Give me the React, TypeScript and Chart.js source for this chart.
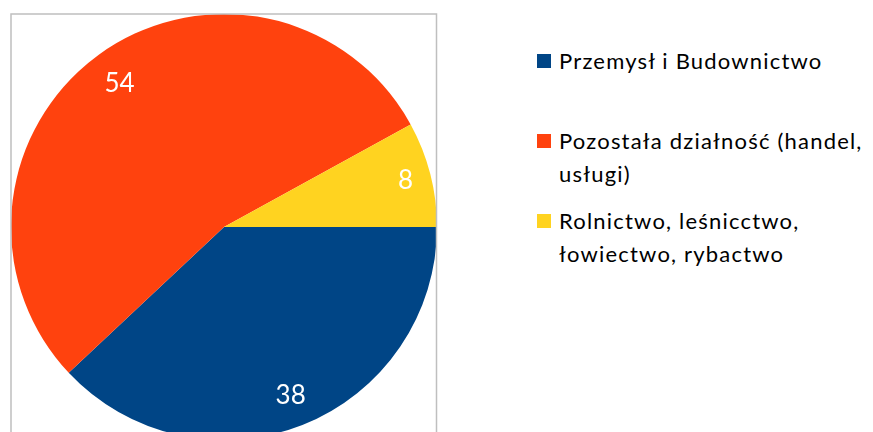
import React, { useEffect, useRef } from "react";
import { Chart, registerables } from "chart.js";
Chart.register(...registerables);

const categories = [
  "Przemysł i Budownictwo",
  "Pozostała działność (handel, usługi)",
  "Rolnictwo, leśnicctwo, łowiectwo, rybactwo",
];
const legendLines = [
  ["Przemysł i Budownictwo"],
  ["Pozostała działność (handel,", "usługi)"],
  ["Rolnictwo, leśnicctwo,", "łowiectwo, rybactwo"],
];
const values = [38, 54, 8];
const colors = ["#004586", "#ff420e", "#ffd320"];
const legendTops = [44, 124, 204];
const labelRadius = [0.85, 0.835, 0.88];

const FONT = "Lato, 'Noto Sans', sans-serif";

const labelPlugin = {
  id: "sliceLabels",
  afterDatasetsDraw(chart: any) {
    const ctx = chart.ctx;
    const meta = chart.getDatasetMeta(0);
    ctx.save();
    ctx.fillStyle = "#ffffff";
    ctx.font = `26px ${FONT}`;
    ctx.textAlign = "center";
    ctx.textBaseline = "middle";
    meta.data.forEach((arc: any, i: number) => {
      const mid = (arc.startAngle + arc.endAngle) / 2;
      const d = arc.outerRadius * labelRadius[i];
      ctx.fillText(String(values[i]), arc.x + Math.cos(mid) * d, arc.y + Math.sin(mid) * d);
    });
    ctx.restore();
  },
};

const framePlugin = {
  id: "frame",
  afterDraw(chart: any) {
    const ctx = chart.ctx;
    ctx.save();
    ctx.strokeStyle = "#bfbfbf";
    ctx.lineWidth = 1.5;
    ctx.strokeRect(11, 14, 425.5, 480);
    ctx.restore();
  },
};

export default function App() {
  const ref = useRef<HTMLCanvasElement>(null);
  useEffect(() => {
    const chart = new Chart(ref.current!, {
      type: "pie",
      data: {
        labels: categories,
        datasets: [
          {
            data: values,
            backgroundColor: colors,
            borderWidth: 0,
          },
        ],
      },
      options: {
        animation: false,
        responsive: false,
        rotation: 90,
        layout: { padding: { left: 11, top: 14, right: 13, bottom: 20 } },
        plugins: {
          legend: { display: false },
          tooltip: { enabled: false },
        },
      },
      plugins: [labelPlugin, framePlugin],
    });
    return () => chart.destroy();
  }, []);

  return (
    <div style={{ position: "absolute", left: 0, top: 0, width: 873, height: 432, overflow: "hidden", background: "#fff" }}>
      <canvas ref={ref} width={450} height={460} style={{ position: "absolute", left: 0, top: 0, width: 450, height: 460 }} />
      {legendLines.map((lines, i) => (
        <div key={i} style={{ position: "absolute", left: 537, top: legendTops[i], fontFamily: FONT, fontSize: 22, lineHeight: "33px", letterSpacing: "1.2px", color: "#000" }}>
          <span style={{ position: "absolute", left: 0, top: 10, width: 14, height: 14, background: colors[i] }} />
          {lines.map((l, j) => (
            <div key={j} style={{ marginLeft: 22, whiteSpace: "nowrap" }}>{l}</div>
          ))}
        </div>
      ))}
    </div>
  );
}
